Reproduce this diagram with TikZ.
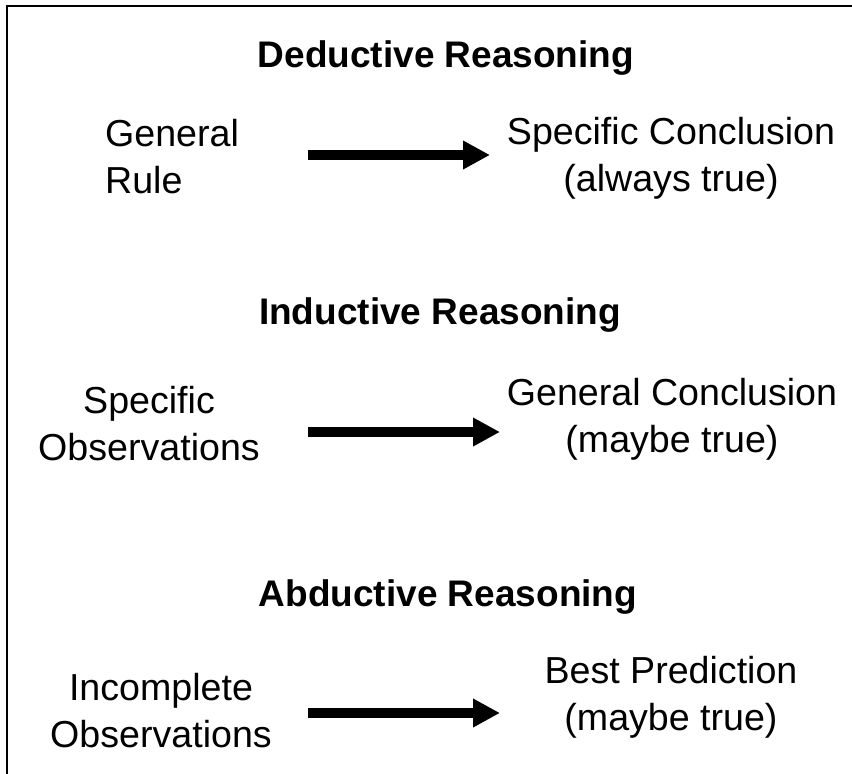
\documentclass[tikz,border=0pt]{standalone}
\usepackage{fontspec}
\setmainfont{Liberation Sans}
\usetikzlibrary{arrows.meta}
\begin{document}
\begin{tikzpicture}[x=1pt,y=-1pt,
  title/.style={font=\fontsize{37}{47}\selectfont\bfseries, anchor=base, inner sep=0pt},
  txt/.style={font=\fontsize{37.6}{47}\selectfont, anchor=base, inner sep=0pt, align=center},
  bigarrow/.style={line width=10pt, -{Triangle[length=27pt,width=27pt]}}]
\useasboundingbox (0,0) rectangle (852,774);
\draw[line width=2pt] (7,774) -- (7,6) -- (852,6);
% Row 1
\node[title] (t1) at (446,67) {Deductive Reasoning};
\node[txt, align=left] (l1) at (172,193) {General\\Rule};
\node[txt] (r1) at (671,191) {Specific Conclusion\\(always true)};
\coordinate (a1s) at (308,155);
\coordinate (a1e) at (490,155);
\draw[bigarrow] (a1s) -- (a1e);
% Row 2
\node[title] (t2) at (440,324) {Inductive Reasoning};
\node[txt] (l2) at (149,460) {Specific\\Observations};
\node[txt] (r2) at (672,452) {General Conclusion\\(maybe true)};
\coordinate (a2s) at (308,432);
\coordinate (a2e) at (500,432);
\draw[bigarrow] (a2s) -- (a2e);
% Row 3
\node[title] (t3) at (448,606) {Abductive Reasoning};
\node[txt] (l3) at (161,747) {Incomplete\\Observations};
\node[txt] (r3) at (671,730) {Best Prediction\\(maybe true)};
\coordinate (a3s) at (308,713);
\coordinate (a3e) at (500,713);
\draw[bigarrow] (a3s) -- (a3e);
\end{tikzpicture}
\end{document}
